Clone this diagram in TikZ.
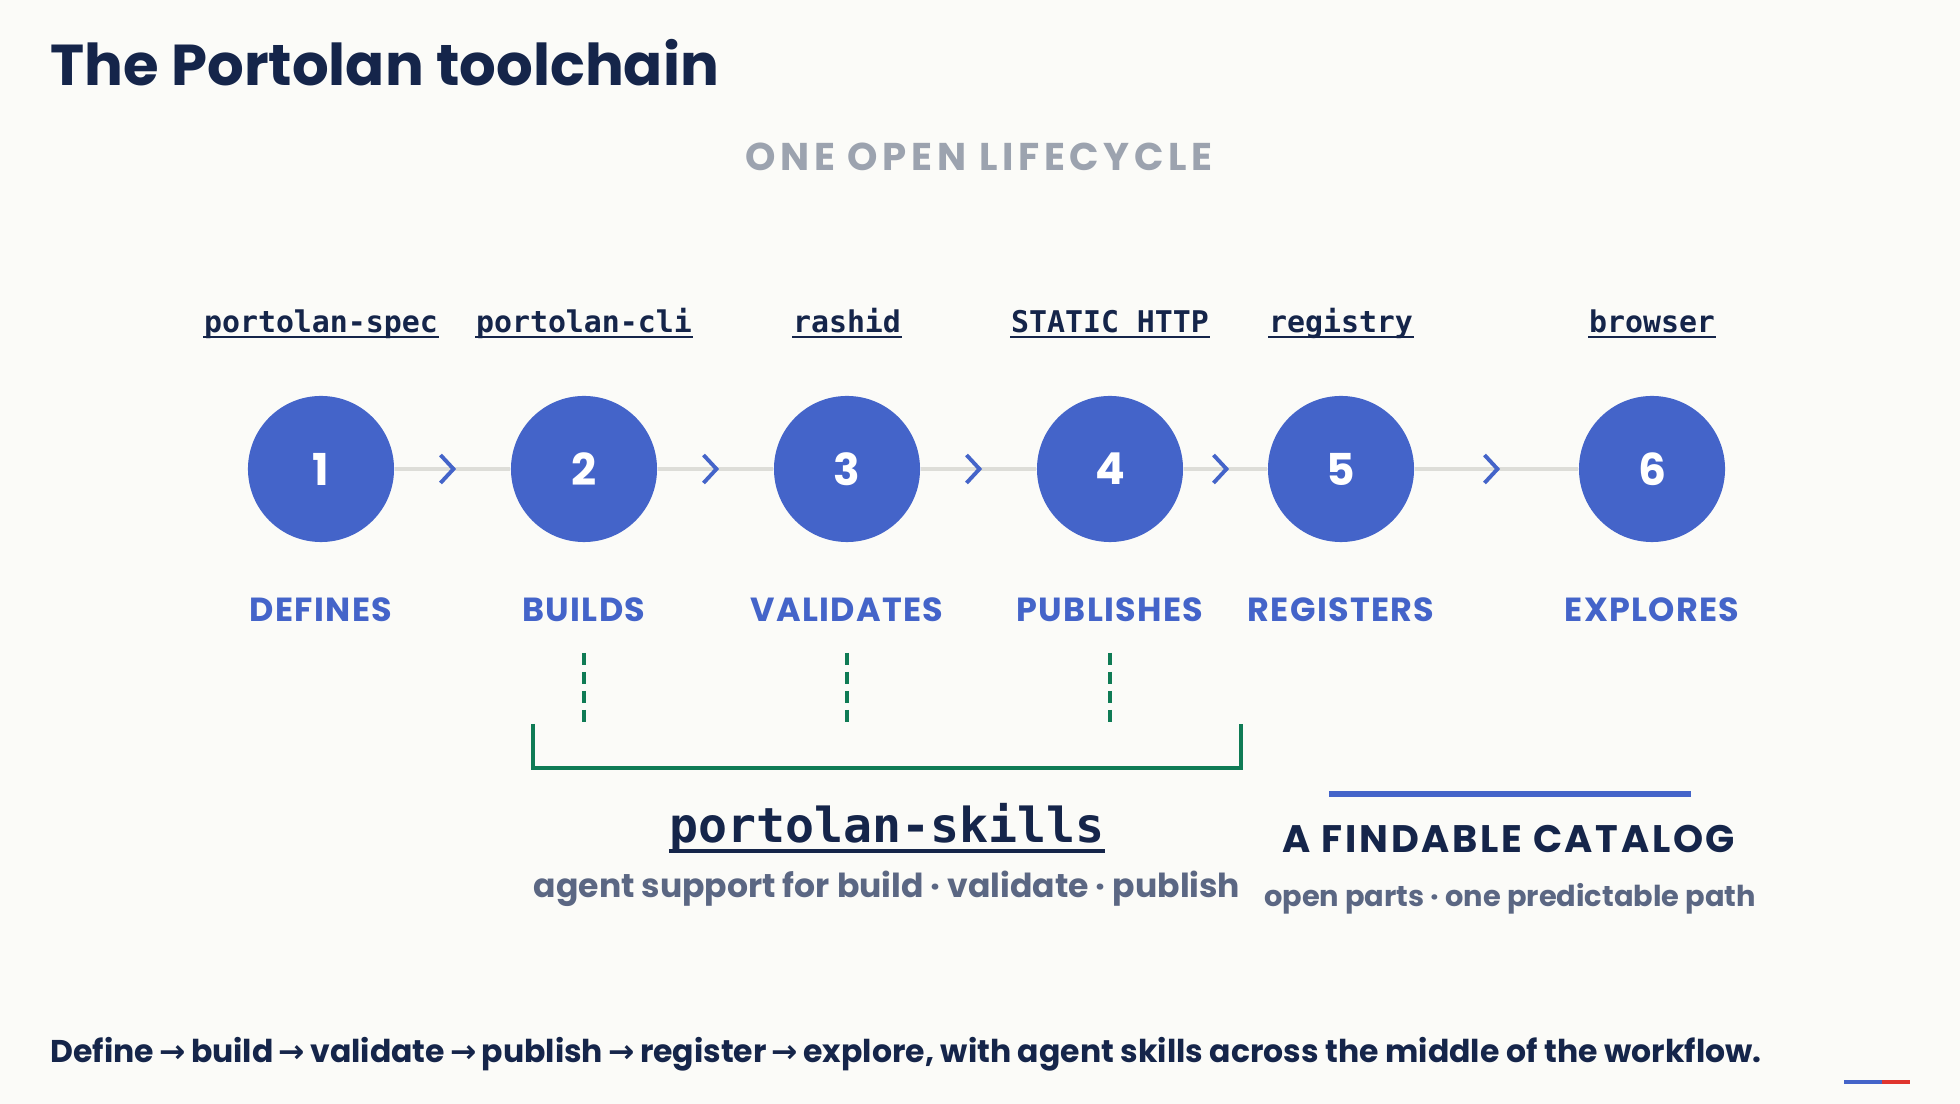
\documentclass[tikz,border=0pt]{standalone}
\usepackage{fontspec}
\setmainfont{Poppins}
\newfontfamily\codefont{DejaVu Sans Mono}
\newfontfamily\spacedfont[LetterSpace=12]{Poppins}
\newfontfamily\widefont[LetterSpace=4]{Poppins}
\newfontfamily\catfont[LetterSpace=7]{Poppins}
\newfontfamily\arrowfont{DejaVu Sans}
\usetikzlibrary{calc}
\definecolor{paper}{HTML}{FBFBF8}
\definecolor{navy}{HTML}{15254A}
\definecolor{dotblue}{HTML}{4464C9}
\definecolor{softgray}{HTML}{9CA3AF}
\definecolor{slate}{HTML}{5B6783}
\definecolor{skillgreen}{HTML}{0F7B55}
\definecolor{trackgray}{HTML}{DDDDD8}
\definecolor{flagred}{HTML}{E0352E}
\newcommand{\fsz}[1]{\fontsize{#1}{#1}\selectfont}
\newcommand{\ra}{{\arrowfont\bfseries\,→\,}}

\begin{document}
\begin{tikzpicture}[x=0.01cm,y=-0.01cm,
    stepdot/.style={circle,fill=dotblue,minimum size=1.46cm,inner sep=0,
      text=white,font=\bfseries\fsz{12.5}},
    toollbl/.style={anchor=base,inner sep=0,text=navy,font=\codefont\bfseries\fsz{8.5}},
    actlbl/.style={anchor=base,inner sep=0,text=dotblue,font=\widefont\bfseries\fsz{9.5}},
    uline/.style={navy,line width=0.6pt},
    track/.style={trackgray,line width=1.1pt},
    chev/.style={dotblue,line width=1.1pt},
    skilldash/.style={skillgreen,line width=1pt,dash pattern=on 3.4pt off 2pt},
    bracket/.style={skillgreen,line width=1.1pt}]
  \fill[paper] (0,0) rectangle (1960,1104);
  \node[anchor=base west,inner sep=0,text=navy,font=\bfseries\fsz{16.4}] (title) at (50,86) {The Portolan toolchain};
  \node[anchor=base,inner sep=0,text=softgray,font=\spacedfont\bfseries\fsz{11}] (life) at (979,171) {ONE OPEN LIFECYCLE};
  % the six steps
  \foreach \x/\n/\tool/\act in {321/1/portolan-spec/DEFINES,584/2/portolan-cli/BUILDS,
      847/3/rashid/VALIDATES,1110/4/STATIC HTTP/PUBLISHES,1341/5/registry/REGISTERS,1652/6/browser/EXPLORES}{
    \node[stepdot] (c\n) at (\x,469) {\n};
    \node[toollbl] (t\n) at (\x,333) {\tool};
    \draw[uline] ($(t\n.base west)+(0,4)$) -- ($(t\n.base east)+(0,4)$);
    \node[actlbl] (v\n) at (\x,622) {\act};
  }
  \foreach \a/\b in {1/2,2/3,3/4,4/5,5/6}{
    \draw[track] (c\a) -- (c\b) coordinate[midway] (m\a);
    \draw[chev] ($(m\a)+(-12,-14)$) -- ($(m\a)+(1,0)$) -- ($(m\a)+(-12,14)$);
  }
  % agent skills bracket
  \foreach \n in {2,3,4}
    \draw[skilldash] (c\n |- 0,653) -- (c\n |- 0,726);
  \coordinate (bl) at (533,724);
  \coordinate (br) at (1241,724);
  \draw[bracket] (bl) -- ++(0,44) -| (br);
  \node[anchor=base,inner sep=0,text=navy,font=\codefont\bfseries\fsz{13.7}] (skills) at (887,843) {portolan-skills};
  \draw[navy,line width=0.9pt] ($(skills.base west)+(0,8)$) -- ($(skills.base east)+(0,8)$);
  \node[anchor=base,inner sep=0,text=slate,font=\bfseries\fsz{9.4}] (skillsub) at (887,898) {agent support for build · validate · publish};
  % catalog
  \draw[dotblue,line width=1.7pt] (1329,794) -- (1691,794);
  \node[anchor=base,inner sep=0,text=navy,font=\catfont\bfseries\fsz{10.9}] (catalog) at (1509,853) {A FINDABLE CATALOG};
  \node[anchor=base,inner sep=0,text=slate,font=\bfseries\fsz{8.2}] (catsub) at (1510,907) {open parts · one predictable path};
  % footer
  \node[anchor=base west,inner sep=0,text=navy,font=\bfseries\fsz{8.95}] (foot) at (50,1063)
    {Define\ra build\ra validate\ra publish\ra register\ra explore, with agent skills across the middle of the workflow.};
  \fill[dotblue] (1844,1080) rectangle (1882,1084);
  \fill[flagred] (1882,1080) rectangle (1910,1084);
\end{tikzpicture}
\end{document}
